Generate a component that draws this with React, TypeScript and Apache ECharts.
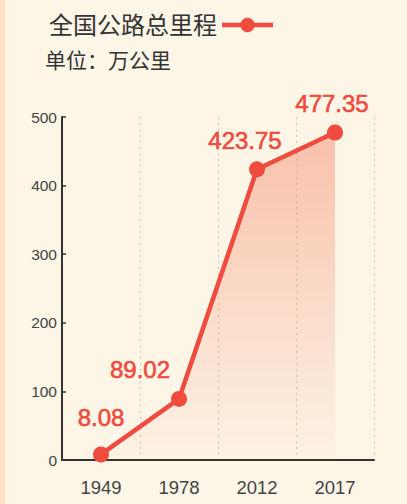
import React, { useEffect, useRef } from "react";
import * as echarts from "echarts";

const seriesName = "全国公路总里程";
const unitText = "单位：万公里";
const years = ["1949", "1978", "2012", "2017"];
const mileage = [8.08, 89.02, 423.75, 477.35];
const yTicks = { min: 0, max: 500, interval: 100 };

// label placement (style only)
const labelOffsets = [
  [0, -37],
  [-39, -29],
  [-12, -29],
  [-3, -29],
];

const FONT = '"Liberation Sans", Arial, "Noto Sans CJK SC", sans-serif';
const RED = "#ef4b3e";

export default function App() {
  const ref = useRef<HTMLDivElement>(null);
  useEffect(() => {
    if (!ref.current) return;
    const chart = echarts.init(ref.current, undefined, { renderer: "svg" });
    chart.setOption({
      animation: false,
      backgroundColor: "transparent",
      textStyle: { fontFamily: FONT },
      legend: {
        data: [seriesName],
        left: 44,
        top: 8,
        align: "right",
        itemWidth: 51,
        itemHeight: 18,
        itemGap: 10,
        lineStyle: { width: 4.5, color: RED },
        itemStyle: { color: RED },
        textStyle: { fontSize: 24, color: "#333", fontFamily: FONT },
      },
      graphic: [
        {
          type: "text",
          left: 45,
          top: 50,
          style: { text: unitText, fontSize: 21, fill: "#333", fontFamily: FONT },
        },
      ],
      grid: { left: 62, right: 33, top: 117, bottom: 44, containLabel: false },
      xAxis: {
        type: "category",
        data: years,
        boundaryGap: true,
        axisLine: { lineStyle: { color: "#333", width: 2 } },
        axisTick: { show: false },
        axisLabel: { color: "#444", fontSize: 18.5, margin: 18, fontFamily: FONT },
        splitLine: {
          show: true,
          lineStyle: { color: "rgba(240,110,100,0.45)", type: [2, 4], width: 1 },
        },
      },
      yAxis: {
        type: "value",
        min: yTicks.min,
        max: yTicks.max,
        interval: yTicks.interval,
        axisLine: { show: true, lineStyle: { color: "#333", width: 2 } },
        axisTick: { show: true, inside: true, length: 4, lineStyle: { color: "#333", width: 1.5 } },
        axisLabel: { color: "#444", fontSize: 15.5, margin: 5, fontFamily: FONT },
        splitLine: { show: false },
      },
      series: [
        {
          name: seriesName,
          type: "line",
          data: mileage.map((v, i) => ({
            value: v,
            label: { offset: labelOffsets[i] },
          })),
          symbol: "circle",
          symbolSize: 16,
          lineStyle: { color: RED, width: 4.5 },
          itemStyle: { color: RED },
          areaStyle: {
            color: new echarts.graphic.LinearGradient(0, 0, 0, 1, [
              { offset: 0, color: "rgba(242,125,95,0.62)" },
              { offset: 1, color: "rgba(242,125,95,0.03)" },
            ]),
          },
          label: {
            show: true,
            position: "inside",
            color: RED,
            fontSize: 24,
            fontFamily: FONT,
            textBorderColor: RED,
            textBorderWidth: 0.6,
          },
        },
      ],
    });
    return () => chart.dispose();
  }, []);
  return (
    <div
      ref={ref}
      style={{
        position: "absolute",
        left: 0,
        top: 0,
        width: 407,
        height: 504,
        background: "linear-gradient(to right, #fde0c6 0px, #fde0c6 5px, #fdf5e6 5px, #fdf5e6 100%)",
      }}
    />
  );
}
